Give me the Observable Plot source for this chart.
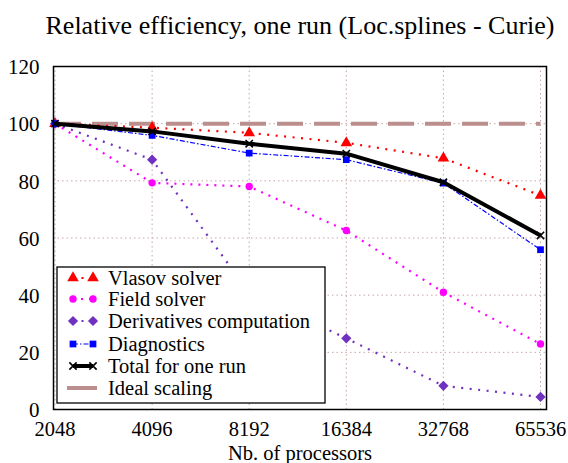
<!DOCTYPE html>
<html>
<head>
<meta charset="utf-8">
<script src="https://cdn.jsdelivr.net/npm/d3@7"></script>
<script src="https://cdn.jsdelivr.net/npm/@observablehq/plot@0.6"></script>
<style>
  html, body { margin: 0; padding: 0; background: white; }
  #wrap { position: relative; width: 568px; height: 463px; font-family: "Liberation Serif", "Times New Roman", Times, "DejaVu Serif", serif; }
  #legend { position: absolute; left: 0; top: 0; pointer-events: none; }
</style>
</head>
<body>
<div id="wrap"></div>
<script>
// ---- data ----
const titleText = "Relative efficiency, one run (Loc.splines - Curie)";
const xLabel = "Nb. of processors";
const procs = [2048, 4096, 8192, 16384, 32768, 65536];
const yTicks = [0, 20, 40, 60, 80, 100, 120];
const seriesNames = ["Vlasov solver", "Field solver", "Derivatives computation", "Diagnostics", "Total for one run", "Ideal scaling"];
const vlasov      = [100, 98.6, 96.8, 93.3, 87.9, 74.9];
const field       = [100, 79.3, 78.0, 62.6, 41.0, 22.9];
const derivatives = [100, 87.4, 40.9, 24.9, 8.3, 4.4];
const diagnostics = [100, 95.9, 89.7, 87.4, 79.2, 55.9];
const total       = [100, 97.3, 93.0, 89.5, 79.5, 60.9];
const ideal       = [100, 100, 100, 100, 100, 100];

// ---- styles ----
const styles = {
  "Vlasov solver":          {stroke: "#ff0000", width: 2.2, dash: "2 6.5", symbol: "triangle", r: 4.3, fill: "#ff0000"},
  "Field solver":           {stroke: "#ff00ff", width: 2.2, dash: "2 6", symbol: "circle", r: 3.7, fill: "#ff00ff"},
  "Derivatives computation":{stroke: "#7030c0", width: 2.2, dash: "2 6.5", symbol: "diamond2", r: 4.6, fill: "#7030c0"},
  "Diagnostics":            {stroke: "#0000ff", width: 1.2, dash: "5 2 1.5 2", symbol: "square", r: 3.8, fill: "#0000ff"},
  "Total for one run":      {stroke: "#000000", width: 4, dash: null, symbol: "times", r: 3.4, fill: "none"},
  "Ideal scaling":          {stroke: "#bc8f8f", width: 4, dash: "26 11", symbol: null}
};
const valuesBySeries = [vlasov, field, derivatives, diagnostics, total, ideal];
const table = [];
seriesNames.forEach((s, i) => procs.forEach((p, j) => table.push({series: s, procs: p, value: valuesBySeries[i][j]})));

const font = "Liberation Serif, Times New Roman, Times, DejaVu Serif, serif";
const drawOrder = ["Ideal scaling", "Vlasov solver", "Field solver", "Derivatives computation", "Diagnostics", "Total for one run"];
const seriesMarks = [];
for (const s of drawOrder) {
  const st = styles[s];
  const d = table.filter(r => r.series === s);
  seriesMarks.push(Plot.line(d, {x: "procs", y: "value", stroke: st.stroke, strokeWidth: st.width, strokeDasharray: st.dash, strokeLinecap: "butt"}));
  if (st.symbol) {
    if (st.symbol === "times") {
      seriesMarks.push(Plot.dot(d, {x: "procs", y: "value", symbol: "times", r: st.r, stroke: st.stroke, strokeWidth: 1.6}));
    } else {
      seriesMarks.push(Plot.dot(d, {x: "procs", y: "value", symbol: st.symbol, r: st.r, fill: st.fill, stroke: "none"}));
    }
  }
}

const chart = Plot.plot({
  width: 568,
  height: 463,
  marginLeft: 53,
  marginRight: 22,
  marginTop: 66,
  marginBottom: 54,
  style: {fontFamily: font, fontSize: "21px", background: "white", color: "black", overflow: "visible"},
  x: {type: "log", base: 2, domain: [2026, 68400]},
  y: {domain: [0, 120]},
  marks: [
    Plot.gridX(procs, {stroke: "#c8a6a6", strokeOpacity: 1, strokeDasharray: "1.5 3", strokeWidth: 1}),
    Plot.gridY(yTicks, {stroke: "#c8a6a6", strokeOpacity: 1, strokeDasharray: "1.5 3", strokeWidth: 1}),
    Plot.axisX(procs, {tickSize: 0, tickPadding: 12, fontSize: 20.5, fill: "black", tickFormat: d => String(d), label: null}),
    Plot.axisY(yTicks, {tickSize: 0, tickPadding: 14, fontSize: 21, fill: "black", tickFormat: d => String(d), label: null, dy: 1}),
    ...seriesMarks,
    Plot.frame({stroke: "black", strokeWidth: 1.5}),
    Plot.text([xLabel], {text: d => d, frameAnchor: "bottom", lineAnchor: "bottom", dy: 50, fontSize: 20.5, fill: "black"}),
    Plot.text([titleText], {text: d => d, frameAnchor: "top", lineAnchor: "bottom", dy: -33, fontSize: 26, fill: "black"})
  ]
});
const wrap = document.getElementById("wrap");
wrap.appendChild(chart);

// ---- legend overlay ----
const lg = d3.select(wrap).append("svg").attr("id", "legend").attr("width", 568).attr("height", 463);
const box = {x: 57, y: 267, w: 268, h: 136};
lg.append("rect").attr("x", box.x).attr("y", box.y).attr("width", box.w).attr("height", box.h)
  .attr("fill", "white").attr("stroke", "black").attr("stroke-width", 1.3);
const rowY = [278, 299, 321, 344, 366, 388];
seriesNames.forEach((s, i) => {
  const st = styles[s];
  const y = rowY[i];
  const x0 = 73, x1 = 93;
  const lx0 = st.symbol ? x0 : 67, lx1 = st.symbol ? x1 : 97;
  lg.append("line").attr("x1", lx0).attr("x2", lx1).attr("y1", y).attr("y2", y)
    .attr("stroke", st.stroke).attr("stroke-width", st.width)
    .attr("stroke-dasharray", st.dash && s !== "Ideal scaling" ? st.dash : null);
  if (st.symbol) {
    const symMap = {triangle: d3.symbolTriangle, circle: d3.symbolCircle, diamond2: d3.symbolDiamond2, square: d3.symbolSquare, times: d3.symbolTimes};
    const sym = d3.symbol(symMap[st.symbol], Math.PI * st.r * st.r);
    for (const x of [x0, x1]) {
      const p = lg.append("path").attr("d", sym()).attr("transform", `translate(${x},${y})`);
      if (st.symbol === "times") p.attr("fill", "none").attr("stroke", st.stroke).attr("stroke-width", 1.6);
      else p.attr("fill", st.fill);
    }
  }
  lg.append("text").attr("x", 108).attr("y", y + 7).attr("font-size", 20.5)
    .attr("font-family", font).attr("fill", "black").text(s);
});
</script>
</body>
</html>
